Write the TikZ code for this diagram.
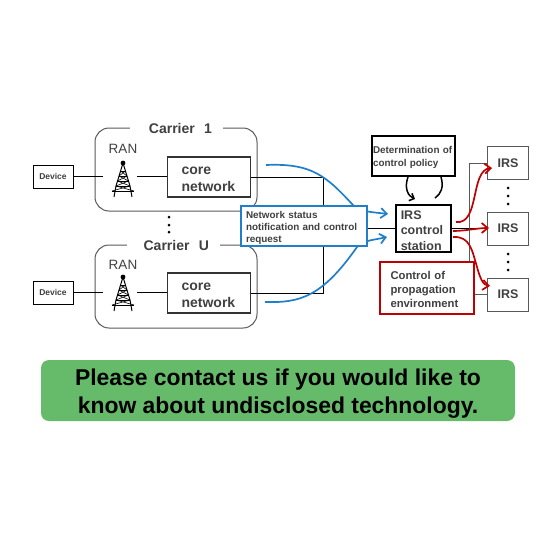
\documentclass[tikz,border=0pt]{standalone}
\usepackage{fontspec}
\setmainfont{Liberation Sans}
\usetikzlibrary{arrows.meta}
\definecolor{txtgray}{HTML}{404040}
\definecolor{boxgray}{HTML}{595959}
\definecolor{flowblue}{HTML}{1F7FC9}
\definecolor{flowred}{HTML}{C00000}
\definecolor{notegreen}{HTML}{66BB6A}
\newcommand{\pushtext}[1]{\rule{0pt}{#1pt}}
\begin{document}
\begin{tikzpicture}[
    x=1pt, y=-1pt,
    line width=.85pt,
    dev/.style={draw=black, line width=.8pt, minimum width=40pt, minimum height=23pt, inner sep=0pt, text=txtgray, font=\fontsize{8.5}{10}\bfseries},
    carrier/.style={draw=boxgray, line width=1pt, rounded corners=14pt, minimum width=162pt, minimum height=83pt, inner sep=0pt},
    carlabel/.style={fill=white, align=right, text width=71pt, inner xsep=11pt, inner ysep=1pt, text=txtgray, font=\fontsize{14}{16}\bfseries},
    ran/.style={inner sep=0pt, text=txtgray, font=\fontsize{13.5}{15}\selectfont},
    core/.style={draw=black!80, line width=1.2pt, minimum width=83pt, minimum height=40pt, inner xsep=14pt, inner ysep=0pt, align=left, anchor=west, text width=55pt, text=txtgray, font=\fontsize{14}{17}\bfseries},
    irs/.style={draw=boxgray, line width=1pt, minimum width=41pt, minimum height=33pt, inner sep=0pt, text=txtgray, font=\fontsize{12.5}{15}\bfseries},
    bluearr/.style={draw=flowblue, line width=1.7pt, -{Straight Barb[length=6pt,width=10pt]}},
    redarr/.style={draw=flowred, line width=1.7pt, -{Straight Barb[length=6pt,width=10pt]}},
    vdots/.style={circle, fill=black, minimum size=3pt, inner sep=0pt},
    tower/.pic={
      \fill (0,3) circle (2.4pt);
      \draw[line width=1pt] (0,3) -- (-7,26) -- (-9,37) (0,3) -- (7,26) -- (9,37);
      \draw[line width=.6pt] (-2.5,11) -- (2.5,11) (-4,16) -- (4,16) (-5.5,21) -- (5.5,21) (-7,26) -- (7,26) (-11,31) -- (11,31);
      \draw[line width=.6pt] (-2.5,11) -- (4,16) (2.5,11) -- (-4,16) (-4,16) -- (5.5,21) (4,16) -- (-5.5,21) (-5.5,21) -- (7,26) (5.5,21) -- (-7,26) (-7,26) -- (11,31) (7,26) -- (-11,31);
    }
  ]
    \useasboundingbox (0,0) rectangle (560,560);

    \node[carrier] (car1) at (176,169.5) {};
    \node[carrier] (car2) at (176,286.5) {};
    \node[carlabel] (lab1) at (176.5,128) {Carrier~~1};
    \node[carlabel] (lab2) at (173.5,245.5) {Carrier~~U};

    \node[dev] (dev1) at (53,176.5) {Device};
    \node[dev] (dev2) at (53,292.5) {Device};
    \node[ran] (ran1) at (123,149) {RAN};
    \node[ran] (ran2) at (123,265) {RAN};
    \pic at (123,160) {tower};
    \pic at (123,274) {tower};
    \coordinate (in1) at (103,176.5);
    \coordinate (in2) at (103,292.5);
    \coordinate (out1) at (137,176.5);
    \coordinate (out2) at (137,292.5);

    \node[core] (core1) at (167,177) {\pushtext{13}core\\network};
    \node[core] (core2) at (167,293) {\pushtext{13}core\\network};

    \draw (dev1) -- (in1);
    \draw (dev2) -- (in2);
    \draw (out1) -- (core1.west |- out1);
    \draw (out2) -- (core2.west |- out2);

    \node[draw=black, line width=1.5pt, minimum width=55pt, minimum height=47pt, inner xsep=5pt, inner ysep=0pt, align=left, anchor=west, text width=45pt, text=txtgray, font=\fontsize{12.5}{15.5}\bfseries] (station) at (395,228.5) {\pushtext{13}IRS\\control\\station};
    \node[draw=black, line width=1.5pt, minimum width=83pt, minimum height=40pt, inner xsep=1pt, inner ysep=0pt, align=left, text width=81pt, text=txtgray, font=\fontsize{9.9}{13}\bfseries] (policy) at (413.5,156) {\pushtext{9.5}Determination of\\control policy};

    \node[irs] (irs1) at (508,163) {IRS};
    \node[irs] (irs2) at (508,228.5) {IRS};
    \node[irs] (irs3) at (508,294.5) {IRS};

    \coordinate (bus) at (323,228.5);
    \coordinate (rail) at (469,228.5);
    \draw (core1.east) -| (bus);
    \draw (core2.east) -| (bus);
    \draw (bus) -- (station.west);
    \draw (station.east) -- (irs2.west);
    \draw[draw=boxgray] (irs1.west) -| (rail);
    \draw[draw=boxgray] (irs3.west) -| (rail);

    \coordinate (blue1) at (266,165);
    \coordinate (bend1) at (353,205);
    \coordinate (tip1) at (388,214);
    \coordinate (blue2) at (265,302);
    \coordinate (bend2) at (357,247);
    \coordinate (tip2) at (387,237);
    \draw[bluearr] (blue1) .. controls (312,163) and (326,176) .. (bend1) .. controls (360,212) and (372,212) .. (tip1);
    \draw[bluearr] (blue2) .. controls (300,303) and (322,297) .. (bend2) .. controls (364,240) and (374,240) .. (tip2);

    \node[draw=flowblue, line width=1.5pt, fill=white, minimum width=126pt, minimum height=40pt, inner xsep=5pt, inner ysep=0pt, align=left, text width=116pt, text=txtgray, font=\fontsize{9.9}{12.2}\bfseries] (notice) at (304,226) {\pushtext{11.5}Network status\\notification and control\\request};

    \coordinate (loop1) at (408,177);
    \coordinate (loop2) at (415,199);
    \coordinate (loop3) at (441,177);
    \coordinate (loop4) at (435,198);
    \draw[line width=1.5pt, -{Straight Barb[length=4pt,width=8pt]}] (loop1) .. controls (404,188) and (408,196) .. (loop2);
    \draw[line width=1.5pt] (loop3) .. controls (444,187) and (441,194) .. (loop4);

    \node[draw=flowred, line width=1.7pt, fill=white, minimum width=94pt, minimum height=52pt, inner xsep=10.5pt, inner ysep=0pt, align=left, text width=73pt, text=txtgray, font=\fontsize{11.3}{14}\bfseries] (prop) at (427,288) {\pushtext{10.5}Control of\\propagation\\environment};

    \coordinate (red1) at (456,222);
    \coordinate (red2) at (453,231);
    \coordinate (red3) at (453,237);
    \coordinate (hit1) at (492,168);
    \coordinate (hit2) at (489,228);
    \coordinate (bend3) at (477,267);
    \coordinate (hit3) at (490,286);
    \draw[redarr] (red1) .. controls (480,225) and (470,170) .. (hit1);
    \draw[redarr] (red2) .. controls (465,231) and (478,228) .. (hit2);
    \draw[redarr] (red3) .. controls (470,236) and (472,250) .. (bend3) .. controls (480,278) and (483,285) .. (hit3);

    \node[vdots] (d1) at (169,217) {};
    \node[vdots] (d2) at (169,225) {};
    \node[vdots] (d3) at (169,232) {};
    \node[vdots] (d4) at (508,188) {};
    \node[vdots] (d5) at (508,196) {};
    \node[vdots] (d6) at (508,204) {};
    \node[vdots] (d7) at (508,254) {};
    \node[vdots] (d8) at (508,262) {};
    \node[vdots] (d9) at (508,270) {};

    \node[fill=notegreen, rounded corners=8pt, minimum width=474pt, minimum height=61pt, inner sep=0pt, align=center, font=\fontsize{22.9}{28}\bfseries] (note) at (278,390.5) {\pushtext{23}Please contact us if you would like to\\know about undisclosed technology.};
  \end{tikzpicture}
\end{document}
